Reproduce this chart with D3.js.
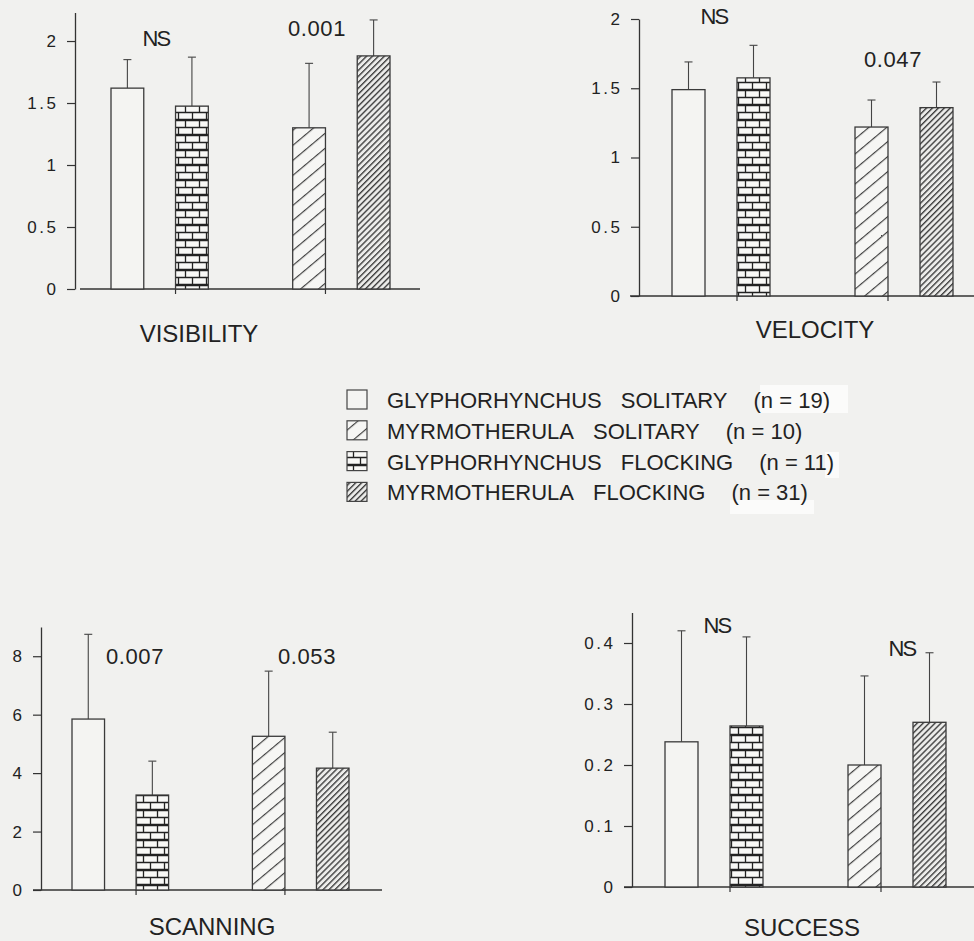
<!DOCTYPE html>
<html>
<head>
<meta charset="utf-8">
<script src="https://cdn.jsdelivr.net/npm/d3@7"></script>
<style>
  html, body { margin: 0; padding: 0; background: #f1f1ef; }
  svg { display: block; }
  text { font-family: "Liberation Sans", Arial, Helvetica, sans-serif; fill: #222; }
</style>
</head>
<body>
<svg id="chart" width="974" height="941"></svg>
<script>
// ---------------- DATA ----------------
const groups = ["GLYPHORHYNCHUS", "MYRMOTHERULA"];
const statuses = ["SOLITARY", "FLOCKING"];
// bar order within each panel: Glyph solitary, Glyph flocking, Myrm solitary, Myrm flocking
const barGenus  = ["GLYPHORHYNCHUS", "GLYPHORHYNCHUS", "MYRMOTHERULA", "MYRMOTHERULA"];
const barStatus = ["SOLITARY", "FLOCKING", "SOLITARY", "FLOCKING"];

const visibilityMeans = [1.62, 1.475, 1.30, 1.88];
const visibilityUpper = [1.85, 1.87, 1.82, 2.17];
const velocityMeans   = [1.49, 1.575, 1.22, 1.36];
const velocityUpper   = [1.69, 1.81, 1.415, 1.545];
const scanningMeans   = [5.85, 3.25, 5.26, 4.17];
const scanningUpper   = [8.75, 4.41, 7.49, 5.40];
const successMeans    = [0.238, 0.264, 0.20, 0.27];
const successUpper    = [0.42, 0.41, 0.346, 0.384];

const visibilityTicks = [0, 0.5, 1, 1.5, 2];
const velocityTicks   = [0, 0.5, 1, 1.5, 2];
const scanningTicks   = [0, 2, 4, 6, 8];
const successTicks    = [0, 0.1, 0.2, 0.3, 0.4];

const visibilityNotes = ["NS", "0.001"];
const velocityNotes   = ["NS", "0.047"];
const scanningNotes   = ["0.007", "0.053"];
const successNotes    = ["NS", "NS"];

const panelTitles = ["VISIBILITY", "VELOCITY", "SCANNING", "SUCCESS"];

const legendGenus  = ["GLYPHORHYNCHUS", "MYRMOTHERULA", "GLYPHORHYNCHUS", "MYRMOTHERULA"];
const legendStatus = ["SOLITARY", "SOLITARY", "FLOCKING", "FLOCKING"];
const legendN      = [19, 10, 11, 31];

// ---------------- LAYOUT ----------------
const patternOf = (genus, status) =>
  genus === "GLYPHORHYNCHUS" ? (status === "SOLITARY" ? "none" : "url(#brick)")
                             : (status === "SOLITARY" ? "url(#hatch)" : "url(#dense)");

const panels = [
  { title: panelTitles[0], means: visibilityMeans, upper: visibilityUpper, ticks: visibilityTicks, notes: visibilityNotes,
    ax: 75, y0: 289, yTop: 12.5, max: 2.23, xr: [36, 315], xa: [80, 420], titleXY: [199, 342], notesXY: [[156, 46], [317, 36]] },
  { title: panelTitles[1], means: velocityMeans, upper: velocityUpper, ticks: velocityTicks, notes: velocityNotes,
    ax: 639, y0: 296, yTop: 19, max: 2, xr: [33, 314], xa: [630, 974], titleXY: [815, 338], notesXY: [[714, 24], [893, 67]] },
  { title: panelTitles[2], means: scanningMeans, upper: scanningUpper, ticks: scanningTicks, notes: scanningNotes,
    ax: 41, y0: 890, yTop: 627, max: 9, xr: [31, 308], xa: [33, 382], titleXY: [212, 935], notesXY: [[135, 664], [307, 664]] },
  { title: panelTitles[3], means: successMeans, upper: successUpper, ticks: successTicks, notes: successNotes,
    ax: 632, y0: 887, yTop: 612.5, max: 0.45, xr: [33, 314], xa: [624, 974], titleXY: [802, 936], notesXY: [[717, 633], [902, 656]] }
];

const ink = "#333";
const svg = d3.select("#chart");

// background + paste patches
svg.append("rect").attr("width", 974).attr("height", 941).attr("fill", "#f1f1ef");
const patches = [[760, 385, 88, 28], [825, 452, 14, 26], [730, 500, 84, 14]];
svg.selectAll("rect.patch").data(patches).enter().append("rect").attr("class", "patch")
  .attr("x", d => d[0]).attr("y", d => d[1]).attr("width", d => d[2]).attr("height", d => d[3])
  .attr("fill", "#fbfbfa");

// ---------------- PATTERNS ----------------
const defs = svg.append("defs");
const brick = defs.append("pattern").attr("id", "brick").attr("patternUnits", "userSpaceOnUse")
  .attr("width", 14).attr("height", 15);
brick.append("rect").attr("width", 14).attr("height", 15).attr("fill", "#f8f8f6");
brick.append("path")
  .attr("d", "M0,0.5H14 M0,7.5H14 M0,14.5H14 M3.5,0V7.5 M10.5,7.5V15")
  .attr("stroke", "#222").attr("stroke-width", 1.3).attr("fill", "none");
const hatch = defs.append("pattern").attr("id", "hatch").attr("patternUnits", "userSpaceOnUse")
  .attr("width", 20).attr("height", 11.5).attr("patternTransform", "rotate(-40)");
hatch.append("rect").attr("width", 20).attr("height", 11.5).attr("fill", "#f6f6f4");
hatch.append("line").attr("x1", 0).attr("x2", 20).attr("y1", 0.6).attr("y2", 0.6)
  .attr("stroke", "#333").attr("stroke-width", 1.1);
const dense = defs.append("pattern").attr("id", "dense").attr("patternUnits", "userSpaceOnUse")
  .attr("width", 20).attr("height", 4.2).attr("patternTransform", "rotate(-45)");
dense.append("rect").attr("width", 20).attr("height", 4.2).attr("fill", "#ececea");
dense.append("line").attr("x1", 0).attr("x2", 20).attr("y1", 0.7).attr("y2", 0.7)
  .attr("stroke", "#333").attr("stroke-width", 1.3);

// ---------------- PANELS ----------------
const fmtTick = d => d === 0 ? "0" : d3.format("~g")(d);
const hasDot = d => String(fmtTick(d)).includes(".");

panels.forEach(p => {
  const g = svg.append("g");
  const y = d3.scaleLinear().domain([0, p.max]).range([p.y0, p.yTop]);
  const xOuter = d3.scaleBand().domain(groups).range([p.ax + p.xr[0], p.ax + p.xr[1]])
    .paddingInner(85 / 183).paddingOuter(0);
  const xInner = d3.scaleBand().domain(statuses).range([0, xOuter.bandwidth()])
    .paddingInner(32 / 65).paddingOuter(0);
  const bx = i => xOuter(barGenus[i]) + xInner(barStatus[i]);
  const bw = xInner.bandwidth();

  // y axis
  const yAxis = d3.axisLeft(y).tickValues(p.ticks).tickSize(8).tickSizeOuter(0).tickPadding(11).tickFormat(fmtTick);
  const ya = g.append("g").attr("transform", `translate(${p.ax},0)`).call(yAxis)
    .attr("font-size", 17).attr("font-family", "'Liberation Sans', Arial, sans-serif");
  ya.select(".domain").attr("stroke", ink).attr("stroke-width", 1.3);
  ya.selectAll(".tick line").attr("stroke", ink).attr("stroke-width", 1.2);
  ya.selectAll(".tick text")
    .attr("font-size", 17)
    .style("font-size", "17px")
    .attr("fill", "#333")
    .style("letter-spacing", d => hasDot(d) ? "2.5px" : "0px")
    .attr("dx", d => hasDot(d) ? "2.5" : "0");

  // x axis line + ticks
  g.append("line").attr("x1", p.xa[0]).attr("x2", p.xa[1]).attr("y1", p.y0).attr("y2", p.y0)
    .attr("stroke", ink).attr("stroke-width", 1.3);
  const xTicks = [bx(1), bx(2) + bw];
  g.selectAll("line.xt").data(xTicks).enter().append("line").attr("class", "xt")
    .attr("x1", d => d).attr("x2", d => d).attr("y1", p.y0).attr("y2", p.y0 + 5)
    .attr("stroke", ink).attr("stroke-width", 1.2);

  // error bars
  const idx = d3.range(p.means.length);
  g.selectAll("line.err").data(idx).enter().append("line").attr("class", "err")
    .attr("x1", i => bx(i) + bw / 2).attr("x2", i => bx(i) + bw / 2)
    .attr("y1", i => y(p.means[i])).attr("y2", i => y(p.upper[i]))
    .attr("stroke", "#444").attr("stroke-width", 1.1);
  g.selectAll("line.cap").data(idx).enter().append("line").attr("class", "cap")
    .attr("x1", i => bx(i) + bw / 2 - 4).attr("x2", i => bx(i) + bw / 2 + 4)
    .attr("y1", i => y(p.upper[i])).attr("y2", i => y(p.upper[i]))
    .attr("stroke", "#444").attr("stroke-width", 1.1);

  // bars
  g.selectAll("rect.bar").data(idx).enter().append("rect").attr("class", "bar")
    .attr("x", i => bx(i)).attr("width", bw)
    .attr("y", i => y(p.means[i])).attr("height", i => p.y0 - y(p.means[i]))
    .attr("fill", i => { const f = patternOf(barGenus[i], barStatus[i]); return f === "none" ? "#f4f4f2" : f; })
    .attr("stroke", "#3a3a3a").attr("stroke-width", 1.3);

  // annotations
  g.selectAll("text.note").data(p.notes).enter().append("text").attr("class", "note")
    .attr("x", (d, i) => p.notesXY[i][0]).attr("y", (d, i) => p.notesXY[i][1])
    .attr("text-anchor", "middle")
    .style("font-size", d => d === "NS" ? "22px" : "22px")
    .style("letter-spacing", d => d === "NS" ? "-1.8px" : "0.6px")
    .text(d => d);

  // title
  g.append("text").attr("x", p.titleXY[0]).attr("y", p.titleXY[1]).attr("text-anchor", "middle")
    .style("font-size", "24px").style("letter-spacing", "0px").text(p.title);
});

// ---------------- LEGEND ----------------
const legendPatterns = legendGenus.map((gname, i) => patternOf(gname, legendStatus[i]));
const lg = svg.append("g");
const rowY = i => 400 + i * 30.8;
legendGenus.forEach((gname, i) => {
  const cy = rowY(i);
  lg.append("rect").attr("x", 347).attr("y", cy - 10).attr("width", 20).attr("height", 19)
    .attr("fill", legendPatterns[i] === "none" ? "#f4f4f2" : legendPatterns[i])
    .attr("stroke", "#444").attr("stroke-width", 1.2);
  const t1 = lg.append("text").attr("x", 387).attr("y", cy + 8).style("font-size", "22px")
    .style("letter-spacing", "0px").text(gname);
  const w1 = t1.node().getComputedTextLength();
  const t2 = lg.append("text").attr("x", 387 + w1 + 19).attr("y", cy + 8).style("font-size", "22px")
    .text(legendStatus[i]);
  const w2 = t2.node().getComputedTextLength();
  lg.append("text").attr("x", 387 + w1 + 19 + w2 + 26).attr("y", cy + 8).style("font-size", "22px")
    .text(`(n = ${legendN[i]})`);
});
</script>
</body>
</html>
